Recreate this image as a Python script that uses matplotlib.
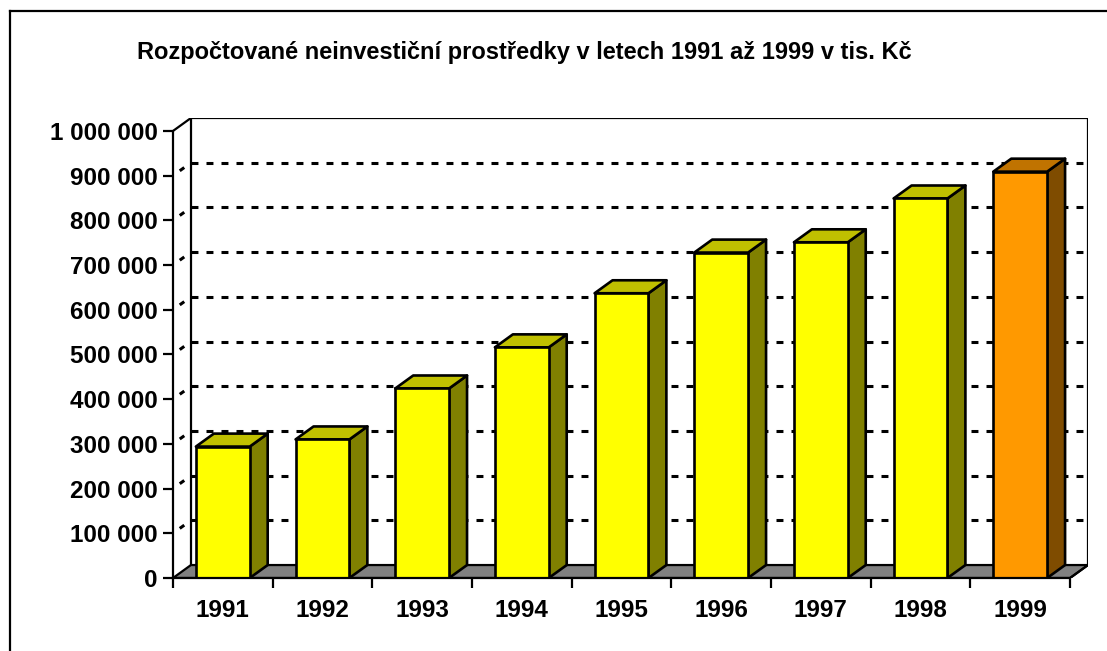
import matplotlib
matplotlib.use("Agg")
import matplotlib.pyplot as plt
from matplotlib.patches import Polygon
from matplotlib.lines import Line2D
from matplotlib.ticker import FixedLocator, FixedFormatter

# ---- data ----
years = ["1991", "1992", "1993", "1994", "1995", "1996", "1997", "1998", "1999"]
values = [294000, 310000, 424000, 516000, 637000, 728000, 751000, 849000, 909000]
y_ticks = [0, 100000, 200000, 300000, 400000, 500000, 600000, 700000, 800000, 900000, 1000000]
y_tick_labels = ["0", "100 000", "200 000", "300 000", "400 000", "500 000",
                 "600 000", "700 000", "800 000", "900 000", "1 000 000"]
title = "Rozpočtované neinvestiční prostředky v letech 1991 až 1999 v tis. Kč"

# ---- style ----
W, H, DPI = 1107, 651, 100
DX = 0.18          # depth offset in category units
DY = 29000         # depth offset in value units
BAR_W = 0.54
YMAX = 1000000
face = {"front": "#FFFF00", "top": "#C0C000", "side": "#808000"}
face_hl = {"front": "#FF9900", "top": "#C07300", "side": "#7F4C00"}
EDGE_LW = 1.9
FONT = "Liberation Sans"
FS_TICK = 17.5
FS_TITLE = 17

plt.rcParams["lines.scale_dashes"] = False
fig = plt.figure(figsize=(W / DPI, H / DPI), dpi=DPI)
fig.patch.set_facecolor("white")

left_px, right_px, bottom_px, top_px = 173, 1088, 578, 118
ax = fig.add_axes([left_px / W, (H - bottom_px) / H,
                   (right_px - left_px) / W, (bottom_px - top_px) / H])
n = len(years)
x0, x1 = -0.5, n - 0.5
ax.set_xlim(x0, x1 + DX)
ax.set_ylim(0, YMAX + DY)
ax.patch.set_visible(False)
for s in ["top", "right"]:
    ax.spines[s].set_visible(False)
ax.spines["left"].set_bounds(0, YMAX)
ax.spines["bottom"].set_bounds(x0, x1)
for s in ["left", "bottom"]:
    ax.spines[s].set_linewidth(1.6)
    ax.spines[s].set_zorder(20)

# back wall gridlines and left-wall diagonals
grid_kw = dict(color="black", lw=2.2, dashes=(5.0, 5.8), zorder=1)
for v in y_ticks[1:-1]:
    ax.plot([x0 + DX, x1 + DX], [v + DY, v + DY], **grid_kw)
    ax.plot([x0, x0 + DX], [v, v + DY], color="black", lw=2.2,
            dashes=(0, 6.0, 4.0, 10.0), zorder=1)
solid_kw = dict(color="black", lw=1.6, zorder=2, solid_capstyle="projecting")
ax.plot([x0 + DX, x1 + DX], [YMAX + DY, YMAX + DY], **solid_kw)
ax.plot([x0, x0 + DX], [YMAX, YMAX + DY], **solid_kw)
ax.plot([x0 + DX, x0 + DX], [DY, YMAX + DY], **solid_kw)
ax.plot([x1 + DX, x1 + DX], [DY, YMAX + DY], **solid_kw)

# floor
floor = Polygon([(x0, 0), (x1, 0), (x1 + DX, DY), (x0 + DX, DY)], closed=True,
                facecolor="#808080", edgecolor="black", lw=1.6, zorder=3)
ax.add_patch(floor)

# bars
xs = list(range(n))
colors = [face_hl if i == n - 1 else face for i in range(n)]
for i, (x, v) in enumerate(zip(xs, values)):
    c = colors[i]
    l, r = x - BAR_W / 2, x + BAR_W / 2
    z = 5 + i
    side = Polygon([(r, 0), (r + DX, DY), (r + DX, v + DY), (r, v)], closed=True,
                   facecolor=c["side"], edgecolor="black", lw=EDGE_LW, joinstyle="round", zorder=z)
    top = Polygon([(l, v), (r, v), (r + DX, v + DY), (l + DX, v + DY)], closed=True,
                  facecolor=c["top"], edgecolor="black", lw=EDGE_LW, joinstyle="round", zorder=z)
    ax.add_patch(side)
    ax.add_patch(top)
    ax.bar([x], [v], width=BAR_W, color=c["front"], edgecolor="black",
           linewidth=EDGE_LW, zorder=z + 0.5)

# ticks
ax.yaxis.set_major_locator(FixedLocator(y_ticks))
ax.yaxis.set_major_formatter(FixedFormatter(y_tick_labels))
ax.tick_params(axis="y", length=7, width=1.6, pad=4, labelsize=FS_TICK)
ax.xaxis.set_major_locator(FixedLocator(xs))
ax.xaxis.set_major_formatter(FixedFormatter(years))
ax.xaxis.set_minor_locator(FixedLocator([x0 + k for k in range(n + 1)]))
ax.tick_params(axis="x", which="major", length=0, pad=15, labelsize=FS_TICK)
ax.tick_params(axis="x", which="minor", length=7, width=1.6)
for lab in ax.get_xticklabels() + ax.get_yticklabels():
    lab.set_fontweight("bold")
    lab.set_fontfamily(FONT)

# floor right edge diagonal from front axis
ax.plot([x1, x1 + DX], [0, DY], color="black", lw=1.6, zorder=4)

# title
fig.text(524 / W, (H - 53) / H, title, ha="center", va="center",
         fontsize=FS_TITLE, fontweight="bold", fontfamily=FONT)

# chart border
fig.add_artist(Line2D([10 / W, 10 / W], [0, (H - 11) / H], color="black", lw=1.6,
                      transform=fig.transFigure))
fig.add_artist(Line2D([10 / W, 1.0], [(H - 11) / H, (H - 11) / H], color="black", lw=1.6,
                      transform=fig.transFigure))

fig.savefig("out.png", dpi=DPI, facecolor="white")
